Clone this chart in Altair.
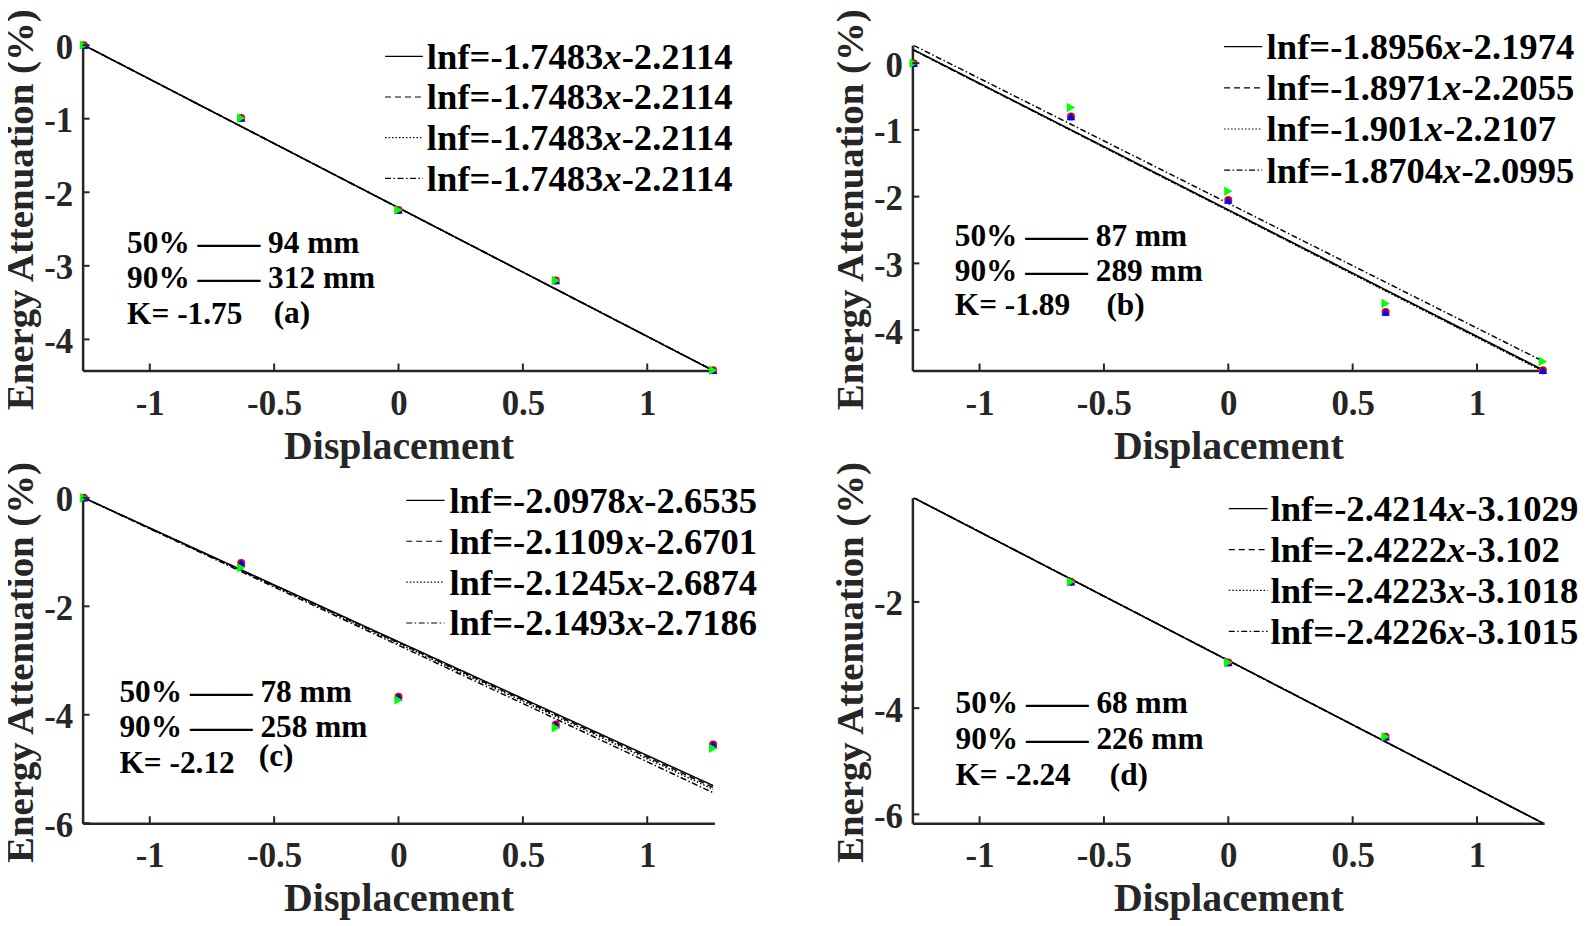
import altair as alt
import pandas as pd

# ---------------- data ----------------
X_POS = [-1.2649, -0.6325, 0.0, 0.6325, 1.2649]
SERIES = ["S1", "S2", "S3", "S4"]

# measured points per panel (series 1..4)
A_S1 = [0.0, -0.99, -2.24, -3.20, -4.42]
A_S2 = [0.0, -0.99, -2.24, -3.20, -4.42]
A_S3 = [0.0, -0.99, -2.24, -3.20, -4.42]
A_S4 = [0.0, -0.99, -2.24, -3.20, -4.42]

B_S1 = [0.0, -0.80, -2.05, -3.73, -4.60]
B_S2 = [0.0, -0.80, -2.05, -3.73, -4.60]
B_S3 = [0.0, -0.80, -2.05, -3.73, -4.60]
B_S4 = [0.0, -0.665, -1.92, -3.60, -4.47]

C_S1 = [0.0, -1.20, -3.67, -4.18, -4.55]
C_S2 = [0.0, -1.20, -3.67, -4.18, -4.55]
C_S3 = [0.0, -1.20, -3.67, -4.18, -4.55]
C_S4 = [0.0, -1.29, -3.73, -4.24, -4.62]

D_S1 = [None, -1.62, -3.14, -4.54, None]
D_S2 = [None, -1.62, -3.14, -4.54, None]
D_S3 = [None, -1.62, -3.14, -4.54, None]
D_S4 = [None, -1.62, -3.14, -4.54, None]

# fitted lines lnf = k*x + b
K_A = [-1.7483, -1.7483, -1.7483, -1.7483]
B_A = [-2.2114, -2.2114, -2.2114, -2.2114]
K_B = [-1.8956, -1.8971, -1.901, -1.8704]
B_B = [-2.1974, -2.2055, -2.2107, -2.0995]
K_C = [-2.0978, -2.1109, -2.1245, -2.1493]
B_C = [-2.6535, -2.6701, -2.6874, -2.7186]
K_D = [-2.4214, -2.4222, -2.4223, -2.4226]
B_D = [-3.1029, -3.102, -3.1018, -3.1015]

HALF_MM = [94, 87, 78, 68]
NINETY_MM = [312, 289, 258, 226]
K_VAL = ["-1.75", "-1.89", "-2.12", "-2.24"]
TAGS = ["(a)", "(b)", "(c)", "(d)"]

X_DOMAIN = [-1.27, 1.27]
Y_DOMAINS = [[-4.4228, 0.0], [-4.605, 0.27], [-6.0, 0.0], [-6.166, -0.04]]
Y_TICKS = [[0, -1, -2, -3, -4], [0, -1, -2, -3, -4], [0, -2, -4, -6], [-2, -4, -6]]
X_TICKS = [-1, -0.5, 0, 0.5, 1]

POINTS = [[A_S1, A_S2, A_S3, A_S4], [B_S1, B_S2, B_S3, B_S4],
          [C_S1, C_S2, C_S3, C_S4], [D_S1, D_S2, D_S3, D_S4]]
FITS = [(K_A, B_A), (K_B, B_B), (K_C, B_C), (K_D, B_D)]

# ---------------- layout / style ----------------
W, H = 635, 327
FONT = "Liberation Serif"
AXC = "#262626"
DASHES = [[1, 0], [6, 4], [1.5, 2], [6, 2.5, 1.5, 2.5]]
COLORS = ["#FF0000", "#0000FF", "#D00000", "#00FF00"]
SHAPES = ["circle", "triangle-up", "circle", "triangle-right"]
SIZES = [65, 75, 35, 90]
DRAW_ORDER = [0, 2, 1, 3]

# legend: sample x1, sample x2, text x, first baseline, step
LEG = [(304, 342, 346, 23.7, 40.9), (313.3, 351.6, 356, 14, 41.4),
       (325.3, 363.7, 368.7, 15, 41.1), (318, 357, 360, 23.4, 41.1)]
# annotation: x, first baseline, step, tag x, tag baseline
ANN = [(44.7, 208.7, 35.8, 192, 279), (42.6, 201.7, 35, 195, 271.7),
       (37, 205, 35.8, 177, 269.4), (43.3, 216.7, 36.2, 198.3, 288.4)]
LEG_FS = 36.8
ANN_FS = 31.5
DASH2 = "\u2014\u2014"

WID = {str(d): 0.5 for d in range(10)}
WID.update({".": 0.25, "-": 0.333, "=": 0.570, "l": 0.278, "n": 0.556, "f": 0.333})


def em_width(s):
    return sum(WID.get(c, 0.5) for c in s)


ONE = alt.Data(values=[{}])


def text_layer(txt, x, y, fs, italic=False, color="black"):
    kw = dict(text=txt, font=FONT, fontSize=fs, fontWeight="bold", color=color,
              align="left", baseline="alphabetic")
    if italic:
        kw["fontStyle"] = "italic"
    return alt.Chart(ONE).mark_text(**kw).encode(x=alt.value(x), y=alt.value(y))


def make_panel(i):
    xs = alt.Scale(domain=X_DOMAIN, nice=False, zero=False)
    ys = alt.Scale(domain=Y_DOMAINS[i], nice=False, zero=False)

    ks, bs = FITS[i]
    lrows = []
    for si in range(4):
        for x in (X_POS[0], X_POS[-1]):
            lrows.append({"x": x, "y": ks[si] * x + bs[si], "s": SERIES[si]})
    lines_df = pd.DataFrame(lrows)

    xaxis = alt.Axis(values=X_TICKS, title="Displacement", titleX=W / 2, titleY=88,
                     labelExpr="'' + datum.value")
    yaxis = alt.Axis(values=Y_TICKS[i], title="Energy Attenuation (%)",
                     titleX=-50, titleY=165, labelExpr="'' + datum.value")

    def X(f):
        return alt.X(f, scale=xs, axis=xaxis, title="Displacement")

    def Y(f):
        return alt.Y(f, scale=ys, axis=yaxis, title="Energy Attenuation (%)")

    lines = alt.Chart(lines_df).mark_line(color="black", strokeWidth=1.5, clip=True).encode(
        x=X("x:Q"), y=Y("y:Q"),
        strokeDash=alt.StrokeDash("s:N", scale=alt.Scale(domain=SERIES, range=DASHES), legend=None),
    )
    layers = [lines]

    for si in DRAW_ORDER:
        rows = [{"x": x, "y": y} for x, y in zip(X_POS, POINTS[i][si]) if y is not None]
        layers.append(
            alt.Chart(pd.DataFrame(rows)).mark_point(
                filled=True, opacity=1, shape=SHAPES[si], size=SIZES[si], color=COLORS[si]
            ).encode(x=X("x:Q"), y=Y("y:Q"))
        )

    xt = alt.Chart(pd.DataFrame({"x": X_TICKS})).mark_rule(color=AXC, strokeWidth=2).encode(
        x=X("x:Q"), y=alt.value(H), y2=alt.value(H - 7))
    yt = alt.Chart(pd.DataFrame({"y": Y_TICKS[i]})).mark_rule(color=AXC, strokeWidth=2).encode(
        y=Y("y:Q"), x=alt.value(0), x2=alt.value(7))
    layers += [xt, yt]

    sx1, sx2, tx, by0, step = LEG[i]
    for si in range(4):
        by = by0 + si * step
        layers.append(alt.Chart(ONE).mark_rule(color="black", strokeWidth=1.2,
                                               strokeDash=DASHES[si]).encode(
            x=alt.value(sx1), x2=alt.value(sx2), y=alt.value(by - 12.5)))
        pre = "lnf=" + str(ks[si])
        suf = str(bs[si])
        xi = tx + em_width(pre) * LEG_FS
        xsuf = xi + 0.5 * LEG_FS
        layers.append(text_layer(pre, tx, by, LEG_FS))
        layers.append(text_layer("x", xi, by, LEG_FS, italic=True))
        layers.append(text_layer(suf, xsuf, by, LEG_FS))

    ax, ab0, astep, tgx, tgb = ANN[i]
    layers.append(text_layer(f"50% {DASH2} {HALF_MM[i]} mm", ax, ab0, ANN_FS))
    layers.append(text_layer(f"90% {DASH2} {NINETY_MM[i]} mm", ax, ab0 + astep, ANN_FS))
    layers.append(text_layer("K= " + K_VAL[i], ax, ab0 + 2 * astep, ANN_FS))
    layers.append(text_layer(TAGS[i], tgx, tgb, ANN_FS))

    return alt.layer(*layers).properties(width=W, height=H)


panels = [make_panel(i) for i in range(4)]

# fixed canvas: plot (a) origin at page (83, 43); svg 1580 x 918
chart = alt.concat(*panels, columns=2, spacing={"row": 128, "column": 199}, bounds="flush").properties(
    autosize=alt.AutoSizeParams(type="none"),
    padding={"left": 75, "top": 35, "right": 1505, "bottom": 883},
).configure_view(stroke=None).configure_axis(
    grid=False, ticks=False, tickSize=0, domainColor=AXC, domainWidth=2.5,
    labelFont=FONT, labelFontSize=35, labelFontWeight="bold", labelColor=AXC,
    titleFont=FONT, titleFontWeight="bold", titleColor=AXC,
    labelFlush=False, labelOverlap=False,
).configure_axisX(
    labelPadding=16, titleFontSize=40, titleBaseline="alphabetic", titleAlign="center",
).configure_axisY(
    labelPadding=10, titleFontSize=39, titleAngle=270, titleBaseline="alphabetic",
    titleAlign="center", labelOffset=2,
)

chart.save("out.html", embed_options={"renderer": "svg", "actions": False})
